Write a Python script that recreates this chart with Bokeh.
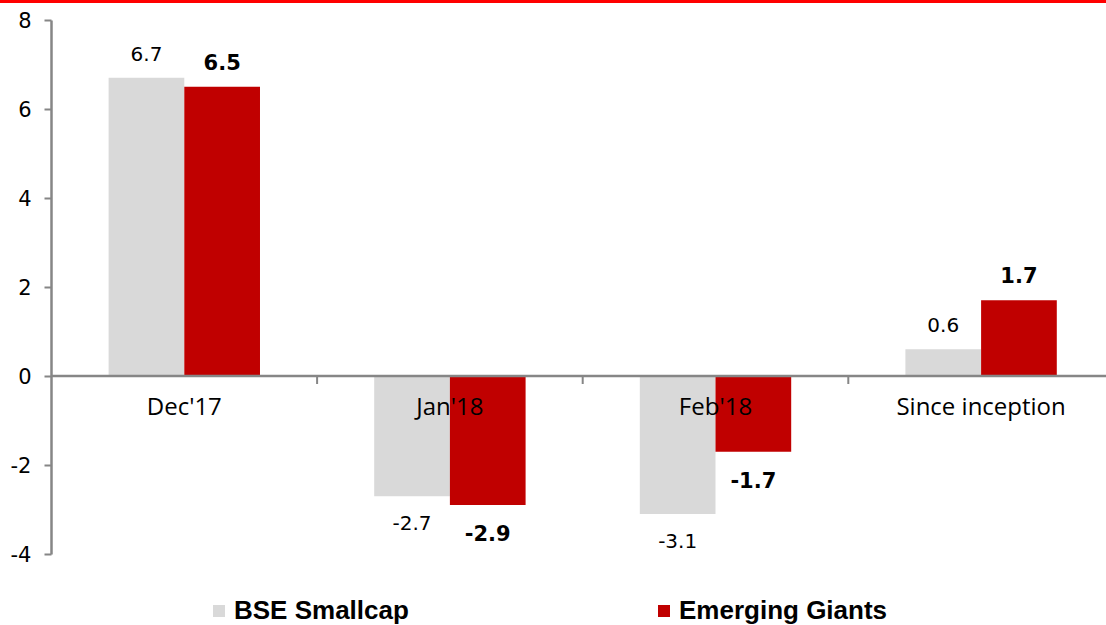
from bokeh.plotting import figure
from bokeh.models import Range1d, Span, Legend, LegendItem, ColumnDataSource, FixedTicker, Div
from bokeh.layouts import column
from bokeh.embed import file_html
from bokeh.resources import INLINE
from bokeh.core.properties import value

# ---- data ----
categories = ["Dec'17", "Jan'18", "Feb'18", "Since inception"]
bse_smallcap = [6.7, -2.7, -3.1, 0.6]
emerging_giants = [6.5, -2.9, -1.7, 1.7]
series_names = ["BSE Smallcap", "Emerging Giants"]
y_ticks = [-4, -2, 0, 2, 4, 6, 8]

# ---- styles ----
GREY = "#D9D9D9"
RED = "#C00000"
AXIS = "#868686"
TOPLINE = "#FF0000"

W, H = 1106, 622
LEFT = 51
PX_PER_CAT = 265.6
PX_PER_UNIT = 44.5
TOP_PAD = 16.5
BAR_W = 0.285

x_end = (W - LEFT) / PX_PER_CAT
y_top = max(y_ticks) + TOP_PAD / PX_PER_UNIT
y_bottom = y_top - H / PX_PER_UNIT

p = figure(width=W, height=H, output_backend="svg", toolbar_location=None,
           x_range=Range1d(0, x_end), y_range=Range1d(y_bottom, y_top),
           x_axis_location=None, y_axis_location="left",
           min_border_left=LEFT, min_border_right=0, min_border_top=0, min_border_bottom=0)
p.outline_line_color = None
p.xgrid.visible = False
p.ygrid.visible = False
p.background_fill_color = "white"
p.border_fill_color = "white"

ax = p.yaxis[0]
ax.ticker = FixedTicker(ticks=y_ticks)
ax.bounds = (min(y_ticks), max(y_ticks))
ax.major_label_overrides = {t: str(t) for t in y_ticks}
ax.axis_line_color = AXIS
ax.axis_line_width = 2.5
ax.major_tick_line_color = AXIS
ax.major_tick_line_width = 2
ax.major_tick_out = 7
ax.major_tick_in = 0
ax.minor_tick_line_color = None
ax.major_label_text_font = "DejaVu Sans"
ax.major_label_text_font_size = "21px"
ax.major_label_text_color = "black"
ax.major_label_standoff = 13

# ---- bars ----
centers = [i + 0.5 for i in range(len(categories))]
src = ColumnDataSource(dict(
    x_bse=[c - BAR_W / 2 for c in centers],
    x_eg=[c + BAR_W / 2 for c in centers],
    bse=bse_smallcap,
    eg=emerging_giants,
    bse_lbl=[f"{v:.1f}" for v in bse_smallcap],
    eg_lbl=[f"{v:.1f}" for v in emerging_giants],
    bse_off=[-24 if v >= 0 else 27 for v in bse_smallcap],
    eg_off=[-25 if v >= 0 else 28 for v in emerging_giants],
))

r1 = p.vbar(x="x_bse", top="bse", bottom=0, width=BAR_W, source=src,
            fill_color=GREY, line_color=None)
r2 = p.vbar(x="x_eg", top="eg", bottom=0, width=BAR_W, source=src,
            fill_color=RED, line_color=None)

# zero axis line
p.add_layout(Span(location=0, dimension="width", line_color=AXIS, line_width=2.5))

# category separator ticks
bounds = [i + 1 for i in range(len(categories))]
tick_len = 8 / PX_PER_UNIT
p.segment(x0=bounds, y0=[0] * len(bounds), x1=bounds, y1=[-tick_len] * len(bounds),
          line_color=AXIS, line_width=2)

# category labels
p.text(x=centers, y=[0] * len(centers), text=categories, y_offset=12.5,
       text_align="center", text_baseline="top",
       text_font=value("Open Sans"), text_font_size="24px", text_color="black")

# data labels
p.text(x="x_bse", y="bse", text="bse_lbl", y_offset="bse_off", source=src,
       text_align="center", text_baseline="middle",
       text_font=value("DejaVu Sans"), text_font_size="20px", text_color="black")
p.text(x="x_eg", y="eg", text="eg_lbl", y_offset="eg_off", source=src,
       text_align="center", text_baseline="middle",
       text_font=value("DejaVu Sans"), text_font_style="bold",
       text_font_size="21px", text_color="black")

# legend
legend = Legend(items=[LegendItem(label=series_names[0], renderers=[r1]),
                       LegendItem(label=series_names[1], renderers=[r2])],
                orientation="horizontal", location=(160, -1),
                glyph_width=15, glyph_height=15, label_standoff=8,
                label_width=422, label_height=30, spacing=0, padding=0, margin=0,
                border_line_color=None, background_fill_alpha=0,
                label_text_font="Liberation Sans", label_text_font_style="bold",
                label_text_font_size="26px", label_text_color="black")
p.add_layout(legend)

topline = Div(text="", width=W, height=3, margin=0,
              styles={"background-color": TOPLINE})

layout = column(topline, p, spacing=0)

open("out.html", "w").write(file_html(layout, INLINE))
